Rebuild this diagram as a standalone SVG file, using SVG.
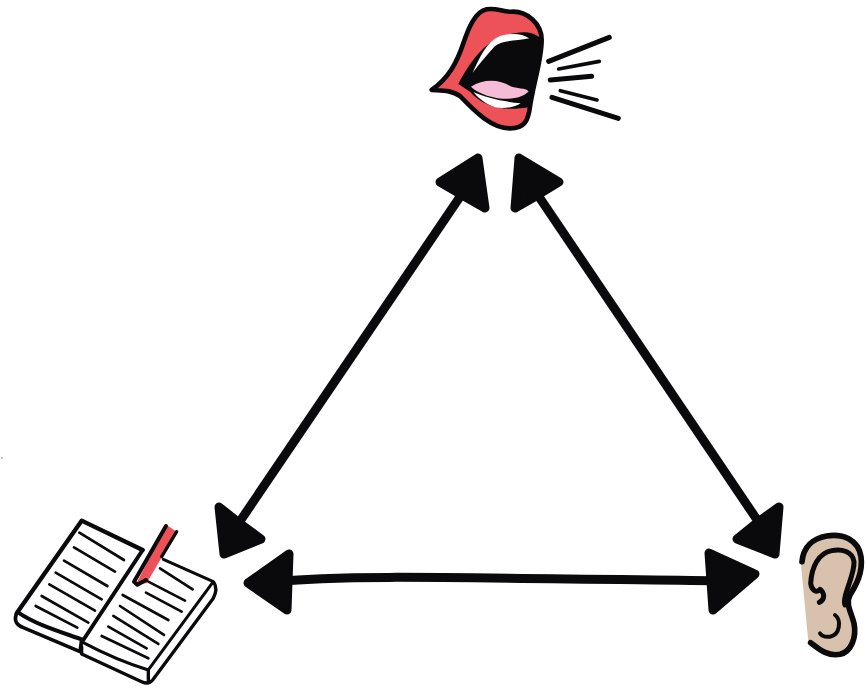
<svg xmlns="http://www.w3.org/2000/svg" width="867" height="689" viewBox="0 0 867 689">
<style>
.k{fill:none;stroke:#0a0a0c;stroke-linecap:round;stroke-linejoin:round}
.h{fill:#0a0a0c;stroke:#0a0a0c;stroke-width:9;stroke-linejoin:round}
.sh{fill:none;stroke:#0a0a0c;stroke-width:9}
.l{fill:none;stroke:#0a0a0c;stroke-width:8;stroke-linecap:round}
.o{fill:none;stroke:#0a0a0c;stroke-width:10;stroke-linecap:round;stroke-linejoin:round}
.t{fill:none;stroke:#0a0a0c;stroke-width:15;stroke-linecap:round;stroke-linejoin:round}
</style>
<rect width="867" height="689" fill="#fff"/>
<g id="connectors">
<path class="sh" d="M470 182L230 536"/>
<path class="sh" d="M529 182L768 536"/>
<path class="sh" d="M270 582C340 575 420 577 730 581"/>
<path class="h" d="M478 158L440 182L464 196L485 208Z"/>
<path class="h" d="M519 158L559 182L536 196L515 208Z"/>
<path class="h" d="M219 507L238 522L261 539L224 554Z"/>
<path class="h" d="M779 507L758 522L737 539L775 554Z"/>
<path class="h" d="M248 583L289 554L287 610Z"/>
<path class="h" d="M755 574L709 553L713 610Z"/>
</g>
<g id="mouth" transform="translate(420 20) scale(.3333)">
<path d="M35 210C85 175 110 130 130 70C145 25 165 -25 200 -32C230 -38 250 -22 280 -25C320 -25 365 10 365 60C365 120 340 190 330 260C325 300 315 325 270 325C215 325 165 275 120 228C95 210 65 212 35 210Z" fill="#ee5259" stroke="#0a0a0c" stroke-width="14" stroke-linejoin="round"/>
<path d="M115 192C150 125 195 65 250 48C285 38 330 25 362 55C360 120 335 190 325 262C250 275 190 260 150 215Z" fill="#0a0a0c"/>
<path d="M158 158C180 110 200 65 240 48C275 38 305 40 328 55C285 63 245 62 225 78C200 105 180 130 158 158Z" fill="#fff"/>
<path d="M153 200C190 175 240 178 270 198C290 207 318 203 326 214C310 235 260 242 220 232C195 226 170 216 153 200Z" fill="#f4bcd6"/>
<path d="M160 216C195 232 250 245 302 250C285 262 250 268 225 262C195 250 175 235 160 216Z" fill="#fff"/>
<path class="t" d="M386 124L568 52"/>
<path class="l" style="stroke-width:11" d="M416 147L538 124"/>
<path class="t" d="M391 180L515 169"/>
<path class="l" style="stroke-width:11" d="M421 212L531 240"/>
<path class="t" d="M396 232L595 295"/>
</g>
<g id="book" transform="translate(0 500) scale(.3333)">
<path d="M245 60L425 150L250 420L55 340Z" fill="#fff"/>
<path class="o" style="stroke-width:13" d="M428 150L245 62L50 340"/>
<path class="o" style="stroke-width:12" d="M55 338C110 375 180 395 250 420L428 150"/>
<path class="o" style="stroke-width:11" d="M48 345C42 365 50 375 70 383L240 455L245 420"/>
<path class="o" style="stroke-width:9" d="M490 178L640 245L445 510C380 490 310 460 250 428"/>
<path class="o" d="M245 440L245 462L425 545C440 552 450 550 458 540L640 295C650 275 650 260 642 248M445 510L445 548"/>
<path d="M500 75L530 95L440 250L408 252Z" fill="#ee5259"/>
<path class="o" style="stroke-width:12" d="M498 78L402 245L412 254L438 240"/>
<path class="o" d="M530 95L485 170"/>
<path class="l" d="M238 98L372 180M222 142L345 215M192 182L322 258M167 218L305 298M148 253L285 332M125 288L265 368M107 318L232 383"/>
<path class="l" d="M480 205L578 268M445 245L555 302M438 278L545 335M368 285L505 360M360 318L492 405M340 348L475 432M325 380L440 445M305 408L445 475"/>
</g>
<g id="ear" transform="translate(780 520) scale(.3333)">
<path d="M62 125C70 80 100 55 140 48C190 40 235 60 243 110C250 160 225 200 210 225C195 250 215 280 222 310C230 350 215 395 180 403C140 410 115 385 85 365Z" fill="#d9c2ad"/>
<path class="t" style="stroke-width:17" d="M66 125C70 80 100 55 140 48C190 40 235 60 243 110C250 160 225 200 210 225C195 250 215 280 222 310C230 350 215 395 180 403C140 410 115 385 92 368"/>
<path class="t" d="M195 255C185 230 225 165 222 125C218 95 185 85 155 92C115 100 95 140 92 190C95 212 110 220 120 208C135 220 135 240 118 247"/>
<path class="t" style="stroke-width:12" d="M165 285C185 300 180 345 150 350C135 352 125 347 120 340"/>
</g>
<rect x="1" y="457.5" width="2" height="1" fill="#888"/>
</svg>
